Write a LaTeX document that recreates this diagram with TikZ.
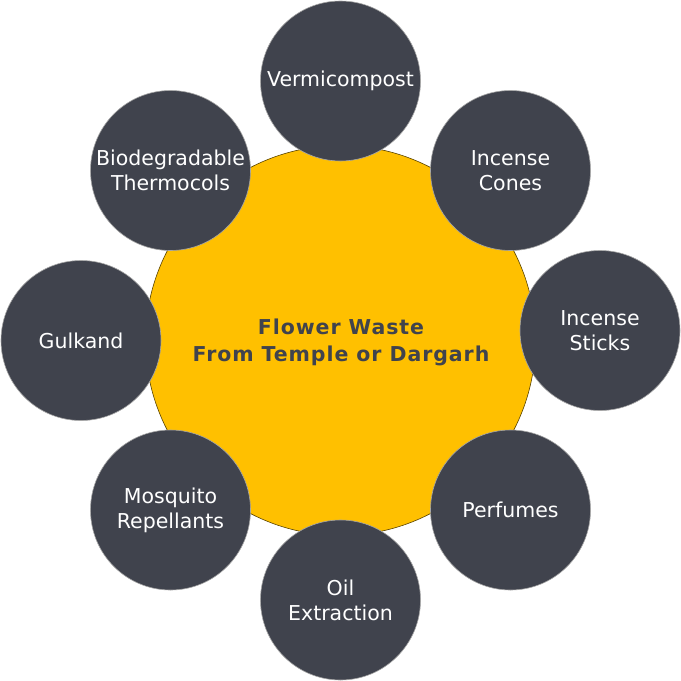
\documentclass[tikz,border=0pt]{standalone}
\usepackage{fontspec}
\setmainfont{DejaVu Sans}
\newfontfamily\hubfont[LetterSpace=4.5]{DejaVu Sans}
\definecolor{dk}{RGB}{64,67,77}
\definecolor{yl}{RGB}{255,192,0}
\begin{document}
\begin{tikzpicture}[x=1pt,y=-1pt,
 hub/.style={circle,fill=yl,draw=black!65!yl,line width=0.6pt,minimum size=390pt,inner sep=0pt,text=dk,font=\hubfont\fontsize{20.5}{26.5}\selectfont\bfseries,align=center},
 leaf/.style={circle,fill=dk,draw=gray!70,line width=0.6pt,minimum size=160pt,inner sep=0pt,text=white,font=\fontsize{20.5}{25}\selectfont,align=center}]
\useasboundingbox (0,0) rectangle (681,681);
\node[hub] (hub) at (340.5,340.5) {};
\node[text=dk,font=\hubfont\fontsize{20.5}{26.5}\selectfont\bfseries,align=center] (hubtext) at (341,342.5) {Flower Waste\\From Temple or Dargarh};
\node[leaf] (verm) at (340.5,81) {Vermicompost};
\node[leaf] (cones) at (510.5,170.5) {Incense\\Cones};
\node[leaf] (sticks) at (600,330.5) {Incense\\Sticks};
\node[leaf] (perf) at (510.5,510) {Perfumes};
\node[leaf] (oil) at (340.5,600) {Oil\\Extraction};
\node[leaf] (mosq) at (170.5,510) {Mosquito\\Repellants};
\node[leaf] (gulk) at (81,340.5) {Gulkand};
\node[leaf] (bio) at (170.5,170.5) {Biodegradable\\Thermocols};
\end{tikzpicture}
\end{document}
